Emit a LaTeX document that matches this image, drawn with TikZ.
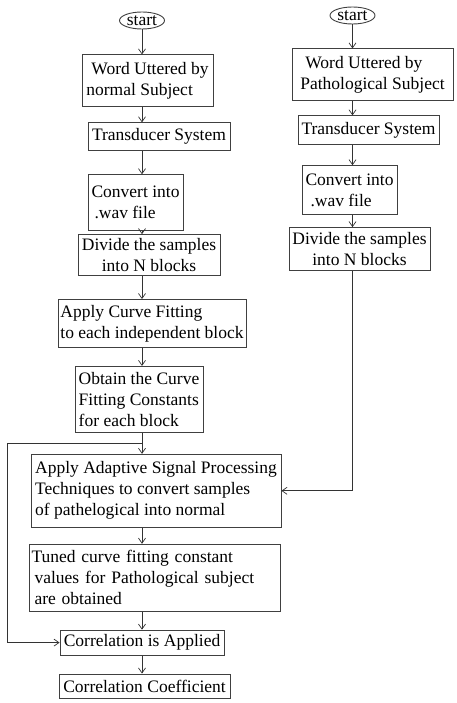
\documentclass[tikz,border=0pt]{standalone}
\usepackage{fontspec}
\setmainfont{Liberation Serif}
\usetikzlibrary{positioning,shapes.geometric,arrows.meta}

\begin{document}
\begin{tikzpicture}[
x=1pt,y=-1pt,
font=\fontsize{17.5}{21}\selectfont,
stepbox/.style={
  draw=black!75,
  line width=0.9pt,
  align=left,
  inner sep=2pt
  },
startnode/.style={
  draw=black!75,
  ellipse,
  line width=0.9pt,
  inner sep=0pt,
  minimum width=45pt,
  minimum height=17pt
  },
flow/.style={-{Straight Barb[length=5pt,width=7pt]},line width=0.7pt,draw=black!80}
]
\useasboundingbox (0,0) rectangle (457,703);
% normal subject
\node[startnode] (startL) at (142,20.5) {start};
\node[stepbox,below=25pt of startL,xshift=5.5pt,minimum width=131pt,minimum height=52pt] (wordL) {\hspace*{5pt}Word Uttered by\\normal Subject};
\node[stepbox,below=15pt of wordL,xshift=11.5pt,minimum width=142pt,minimum height=28pt] (transL) {Transducer System};
\node[stepbox,below=23pt of transL,xshift=-23.5pt,minimum width=95pt,minimum height=56pt] (convL) {Convert into\\\hspace*{3pt}.wav file};
\node[stepbox,align=center,below=3pt of convL,xshift=13.5pt,minimum width=142pt,minimum height=41pt] (divL) {Divide the samples\\into N blocks};
\node[stepbox,below=23pt of divL,xshift=3pt,minimum width=188pt,minimum height=48pt] (fitL) {Apply Curve Fitting\\to each independent block};
\node[stepbox,below=18pt of fitL,xshift=-13pt,minimum width=128pt,minimum height=66pt] (constL) {Obtain the Curve\\Fitting Constants\\for each block};
\node[stepbox,below=21pt of constL,xshift=17pt,minimum width=250pt,minimum height=73pt] (adapt) {Apply Adaptive Signal Processing\\Techniques to convert samples\\of pathelogical into normal};
\node[stepbox,below=16pt of adapt,xshift=-1pt,text width=247pt,minimum height=67pt] (tuned) {Tuned curve fitting constant\\\hspace*{3pt}values for Pathological subject\\\hspace*{3pt}are obtained};
\node[stepbox,below=18pt of tuned,xshift=-13pt,minimum width=164pt,minimum height=25pt] (corr) {Correlation is Applied};
\node[stepbox,below=18pt of corr,xshift=2.5pt,minimum width=171pt,minimum height=24pt] (coef) {Correlation Coefficient};
% pathological subject
\node[startnode] (startR) at (352.5,15.5) {start};
\node[stepbox,below=24pt of startR,xshift=20pt,minimum width=161pt,minimum height=52pt] (wordR) {\hspace*{5pt}Word Uttered by\\Pathological Subject};
\node[stepbox,below=14pt of wordR,xshift=-4pt,minimum width=141pt,minimum height=29pt] (transR) {Transducer System};
\node[stepbox,below=20pt of transR,xshift=-19pt,minimum width=95pt,minimum height=49pt] (convR) {Convert into\\\hspace*{5pt}.wav file};
\node[stepbox,align=center,below=12pt of convR,xshift=10pt,minimum width=141pt,minimum height=43pt] (divR) {Divide the samples\\into N blocks};
% arrows
\foreach \from/\to in {startL/wordL,wordL/transL,transL/convL,convL/divL,divL/fitL,fitL/constL,constL/adapt,adapt/tuned,tuned/corr,corr/coef}
  \draw[flow] (\from.south -| startL) -- (\to.north -| startL);
\foreach \from/\to in {startR/wordR,wordR/transR,transR/convR,convR/divR}
  \draw[flow] (\from.south -| startR) -- (\to.north -| startR);
\draw[flow] (divR.south -| startR) |- (adapt.east);
% feedback to correlation
\coordinate (fbtop) at ([yshift=-10pt]constL.south -| startL);
\coordinate (fbleft) at (7,0);
\draw[flow] (fbtop) -- (fbtop -| fbleft) |- (corr.west);
\end{tikzpicture}
\end{document}
